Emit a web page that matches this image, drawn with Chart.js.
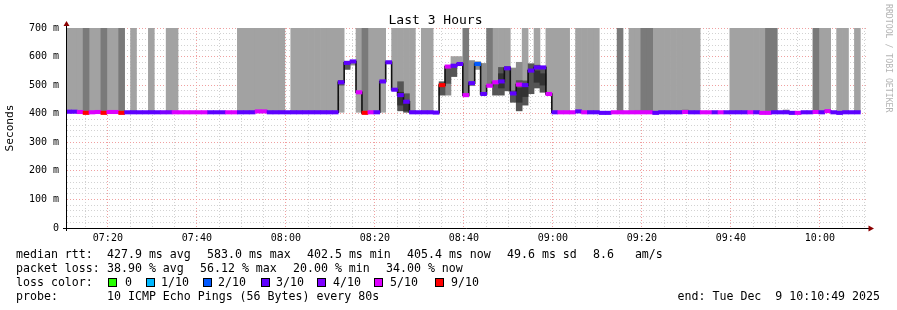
<!DOCTYPE html>
<html>
<head>
<meta charset="utf-8">
<title>Last 3 Hours</title>
<script src="https://cdn.jsdelivr.net/npm/chart.js@4/dist/chart.umd.min.js"></script>
<style>
  html, body { margin: 0; padding: 0; background: #fff; }
  #graph { position: relative; width: 897px; height: 310px; overflow: hidden;
           font-family: 'DejaVu Sans Mono', monospace; color: #000; }
  #graph canvas { position: absolute; left: 0; top: 0; }
  .lg { position: absolute; font-size: 11.6px; line-height: 14px; white-space: pre; }
  .sw { position: absolute; width: 7px; height: 7px; border: 1px solid #000; }
  #credit { position: absolute; left: 884px; top: 4px; writing-mode: vertical-rl;
            font-size: 8.2px; line-height: 9px; color: #b4b4b4; white-space: pre; }
</style>
</head>
<body>
<div id="graph">
  <canvas id="smoke" width="897" height="310"></canvas>
  <div id="credit">RRDTOOL / TOBI OETIKER</div>
</div>
<script>
// time window and probe rounds (one round of 10 pings every 80 s)
const viewStart = '07:10:49';
const viewEnd = '10:10:49';
const firstSample = '07:10:26';
const stepSeconds = 80;

const xTickLabels = ['07:20', '07:40', '08:00', '08:20', '08:40', '09:00', '09:20', '09:40', '10:00'];
const yTickValues = [0, 100, 200, 300, 400, 500, 600, 700];
const yTickLabels = ['0', '100 m', '200 m', '300 m', '400 m', '500 m', '600 m', '700 m'];

// median rtt per round, ms
const median = [
  407, 407, 406, 403, 405, 406, 403, 406, 406, 403,
  405, 405, 405, 405, 405, 405, 405, 405, 405, 405,
  405, 405, 405, 405, 405, 405, 405, 405, 405, 405,
  405, 405, 408, 408, 405, 405, 405, 405, 405, 405,
  405, 405, 405, 405, 405, 405, 510, 578, 583, 475,
  403, 405, 405, 513, 580, 484, 465, 442, 405, 405,
  405, 405, 404, 500, 565, 568, 574, 465, 507, 574,
  469, 498, 510, 513, 559, 471, 502, 500, 551, 562,
  562, 469, 405, 405, 405, 405, 408, 405, 405, 405,
  403, 403, 405, 405, 405, 405, 405, 405, 405, 403,
  405, 405, 405, 405, 406, 405, 405, 405, 405, 405,
  405, 405, 405, 405, 405, 405, 405, 403, 403, 405,
  405, 405, 403, 403, 405, 405, 406, 405, 409, 405,
  403, 405, 405, 405
];

// lost pings per round (out of 10)
const loss = [
  3, 3, 5, 9, 5, 5, 9, 5, 5, 9,
  3, 3, 3, 3, 3, 3, 4, 4, 5, 5,
  5, 5, 5, 5, 3, 3, 3, 5, 5, 3,
  3, 3, 5, 5, 3, 3, 3, 3, 3, 3,
  3, 3, 3, 3, 3, 3, 3, 3, 3, 5,
  9, 5, 3, 3, 3, 3, 3, 3, 3, 3,
  3, 3, 3, 9, 5, 3, 3, 5, 3, 2,
  3, 5, 5, 3, 3, 3, 5, 3, 3, 3,
  3, 5, 3, 5, 5, 5, 3, 5, 3, 3,
  3, 3, 5, 5, 5, 5, 5, 5, 5, 3,
  3, 3, 3, 3, 5, 3, 3, 5, 5, 3,
  5, 3, 3, 3, 3, 5, 3, 5, 5, 3,
  3, 3, 3, 5, 3, 3, 5, 3, 5, 3,
  3, 3, 3, 3
];

// smoke reaching past the top: 0 none, 1 light, 2 dark
const column = [
  1, 1, 1, 2, 1, 1, 2, 1, 1, 2,
  0, 1, 0, 0, 1, 0, 0, 1, 1, 0,
  0, 0, 0, 0, 0, 0, 0, 0, 0, 1,
  1, 1, 1, 1, 1, 1, 1, 0, 1, 1,
  1, 1, 1, 1, 1, 1, 1, 0, 0, 1,
  2, 1, 1, 1, 0, 1, 1, 1, 1, 0,
  1, 1, 0, 0, 0, 0, 0, 2, 0, 0,
  0, 2, 1, 1, 1, 0, 0, 1, 0, 1,
  0, 1, 1, 1, 1, 0, 1, 1, 1, 1,
  0, 0, 0, 2, 0, 1, 1, 2, 2, 1,
  1, 1, 1, 1, 1, 1, 1, 0, 0, 0,
  0, 0, 1, 1, 1, 1, 1, 1, 2, 2,
  0, 0, 0, 0, 0, 0, 2, 1, 1, 0,
  1, 1, 0, 1
];
// rounds whose top smoke starts below the median: [round, ms]
const columnFloor = [[46, 405], [49, 405], [53, 405]];

// smoke bands: [round, low ms, high ms]
const smokeLight = [[65, 568, 600], [66, 574, 600]];
const smokeMid = [
  [47, 560, 578], [48, 570, 583], [64, 465, 506], [68, 498, 586], [69, 555, 582],
  [70, 469, 576], [75, 471, 560], [76, 502, 580], [96, 405, 412], [104, 405, 414],
  [113, 405, 411], [121, 405, 413]
];
const smokeDark = [
  [46, 500, 516], [47, 555, 574], [56, 410, 512], [57, 405, 470], [63, 465, 512],
  [64, 506, 565], [65, 530, 565], [72, 465, 510], [73, 465, 562], [74, 480, 565],
  [75, 440, 480], [76, 410, 516], [77, 430, 515], [78, 470, 575], [79, 490, 570],
  [80, 475, 565]
];
const smokeCore = [
  [56, 430, 475], [57, 410, 440], [73, 490, 540], [76, 440, 490], [77, 460, 500],
  [79, 510, 550], [80, 500, 540]
];

const lossLevels = ['0', '1/10', '2/10', '3/10', '4/10', '5/10', '9/10'];
const lossLevelCounts = [0, 1, 2, 3, 4, 5, 9];
const lossLevelColors = ['#26ff00', '#00b8ff', '#0059ff', '#5e00ff', '#7e00ff', '#dd00ff', '#ff0000'];

const rttStats = ['427.9 ms avg', '583.0 ms max', '402.5 ms min', '405.4 ms now', '49.6 ms sd', '8.6   am/s'];
const lossStats = ['38.90 % avg', '56.12 % max', '20.00 % min', '34.00 % now'];
const probeText = '10 ICMP Echo Pings (56 Bytes) every 80s';
const endText = 'end: Tue Dec  9 10:10:49 2025';

const MONO = "'DejaVu Sans Mono', monospace";

function toMinutes(s) {
    const [h, m, sec] = s.split(':').map(Number);
    return h * 60 + m + (sec || 0) / 60;
}

const xMin = toMinutes(viewStart);
const xMax = toMinutes(viewEnd);
const t0 = toMinutes(firstSample);
const step = stepSeconds / 60;
const yMax = 700;
const at = k => t0 + (k + 0.5) * step;

const majorX = xTickLabels.map(toMinutes);
const xTicks = [];
for (let v = Math.ceil(xMin / 5) * 5; v <= xMax; v += 5) xTicks.push(v);
const yTicks = [];
for (let v = 0; v <= yMax; v += 20) yTicks.push(v);

function colorForLoss(n) {
    let c = lossLevelColors[0];
    lossLevelCounts.forEach((lv, i) => { if (n >= lv) c = lossLevelColors[i]; });
    return c;
}

function floorOf(k) {
    const f = columnFloor.find(e => e[0] === k);
    return f ? f[1] : median[k];
}

const columnBars = shade => column
    .map((c, k) => c === shade ? { x: at(k), y: [floorOf(k), yMax] } : null)
    .filter(Boolean);
const smokeBars = list => list.map(([k, lo, hi]) => ({ x: at(k), y: [lo, hi] }));

const bar = (label, data, color) => ({
    type: 'bar', label, data, backgroundColor: color, borderWidth: 0,
    grouped: false, barPercentage: 1, categoryPercentage: 1
});

// axis lines with the little rrdtool arrow heads
const axisArrows = {
    id: 'axisArrows',
    afterDraw(chart) {
        const { ctx, chartArea: a } = chart;
        ctx.save();
        ctx.strokeStyle = '#000';
        ctx.lineWidth = 1;
        ctx.beginPath();
        ctx.moveTo(a.left - 4, a.bottom + 0.5);
        ctx.lineTo(a.right + 2, a.bottom + 0.5);
        ctx.moveTo(a.left - 0.5, a.bottom + 3);
        ctx.lineTo(a.left - 0.5, a.top - 3);
        ctx.stroke();
        ctx.fillStyle = '#8b0000';
        ctx.beginPath();
        ctx.moveTo(a.right + 0.5, a.bottom - 2.5);
        ctx.lineTo(a.right + 6, a.bottom + 0.5);
        ctx.lineTo(a.right + 0.5, a.bottom + 3.5);
        ctx.fill();
        ctx.beginPath();
        ctx.moveTo(a.left - 3.5, a.top - 2);
        ctx.lineTo(a.left - 0.5, a.top - 7);
        ctx.lineTo(a.left + 2.5, a.top - 2);
        ctx.fill();
        ctx.restore();
    }
};

new Chart(document.getElementById('smoke'), {
    type: 'bar',
    data: {
        datasets: [
            {
                type: 'bar', label: 'loss',
                data: median.map((m, k) => ({ x: at(k), y: [m - 6, m + 6] })),
                backgroundColor: loss.map(colorForLoss),
                borderWidth: 0, grouped: false, barPercentage: 1, categoryPercentage: 1
            },
            {
                type: 'line', label: 'median rtt',
                data: median.map((m, k) => ({ x: at(k), y: m })),
                borderColor: '#111', borderWidth: 1.6, pointRadius: 0, stepped: 'middle', fill: false
            },
            bar('core', smokeBars(smokeCore), '#333333'),
            bar('dark', smokeBars(smokeDark), '#555555'),
            bar('mid', smokeBars(smokeMid), '#8c8c8c'),
            bar('light', smokeBars(smokeLight), '#a2a2a2'),
            bar('columnDark', columnBars(2), '#7a7a7a'),
            bar('columnLight', columnBars(1), '#a2a2a2')
        ]
    },
    options: {
        responsive: false,
        animation: false,
        events: [],
        layout: { padding: { left: 3, right: 29, top: 0, bottom: 62 } },
        plugins: {
            legend: { display: false },
            tooltip: { enabled: false },
            title: {
                display: true, text: 'Last 3 Hours', color: '#000',
                font: { family: MONO, size: 13, weight: 'normal' },
                padding: { top: 12.4, bottom: 0 }
            }
        },
        scales: {
            x: {
                type: 'linear', min: xMin, max: xMax, offset: false,
                afterBuildTicks: s => { s.ticks = xTicks.map(v => ({ value: v })); },
                afterFit: s => { s.height = 20; },
                grid: {
                    offset: false, drawTicks: false, lineWidth: 1,
                    color: c => majorX.some(v => Math.abs(v - c.tick.value) < 0.01) ? '#f0a0a0' : '#d2d2d2'
                },
                border: { display: false, dash: [1, 2] },
                ticks: {
                    autoSkip: false, maxRotation: 0, padding: 4, color: '#000',
                    font: { family: MONO, size: 10 },
                    callback: v => {
                        const i = majorX.findIndex(m => Math.abs(m - v) < 0.01);
                        return i >= 0 ? xTickLabels[i] : '';
                    }
                }
            },
            y: {
                type: 'linear', min: 0, max: yMax,
                afterBuildTicks: s => { s.ticks = yTicks.map(v => ({ value: v })); },
                afterFit: s => { s.width = 64; },
                grid: {
                    drawTicks: false, lineWidth: 1,
                    color: c => yTickValues.includes(c.tick.value) ? '#f0a0a0' : '#d2d2d2'
                },
                border: { display: false, dash: [1, 2] },
                title: {
                    display: true, text: 'Seconds', color: '#000', padding: 0,
                    font: { family: MONO, size: 11.2 }
                },
                ticks: {
                    autoSkip: false, padding: 8, color: '#000',
                    font: { family: MONO, size: 10 },
                    callback: v => {
                        const i = yTickValues.indexOf(v);
                        return i >= 0 ? yTickLabels[i] : '';
                    }
                }
            }
        }
    },
    plugins: [axisArrows]
});

// rrdtool style legend under the graph
const graph = document.getElementById('graph');
function put(x, y, text) {
    const d = document.createElement('div');
    d.className = 'lg';
    d.style.left = x + 'px';
    d.style.top = y + 'px';
    d.textContent = text;
    graph.appendChild(d);
    return d;
}

const rowTop = [247, 261, 275, 289];
put(16, rowTop[0], 'median rtt:');
[107, 207, 307, 407, 507, 593].forEach((x, i) => put(x, rowTop[0], rttStats[i]));
put(16, rowTop[1], 'packet loss:');
[107, 200, 293, 386].forEach((x, i) => put(x, rowTop[1], lossStats[i]));
put(16, rowTop[2], 'loss color:');
const swatchX = [108, 146, 203, 261, 317, 374, 435];
const swatchLabelX = [125, 161, 218, 276, 333, 390, 451];
lossLevels.forEach((lv, i) => {
    const b = document.createElement('div');
    b.className = 'sw';
    b.style.left = swatchX[i] + 'px';
    b.style.top = '278px';
    b.style.background = lossLevelColors[i];
    graph.appendChild(b);
    put(swatchLabelX[i], rowTop[2], lv);
});
put(16, rowTop[3], 'probe:');
put(107, rowTop[3], probeText);
const endDiv = put(0, rowTop[3], endText);
endDiv.style.left = 'auto';
endDiv.style.right = '17px';
</script>
</body>
</html>
